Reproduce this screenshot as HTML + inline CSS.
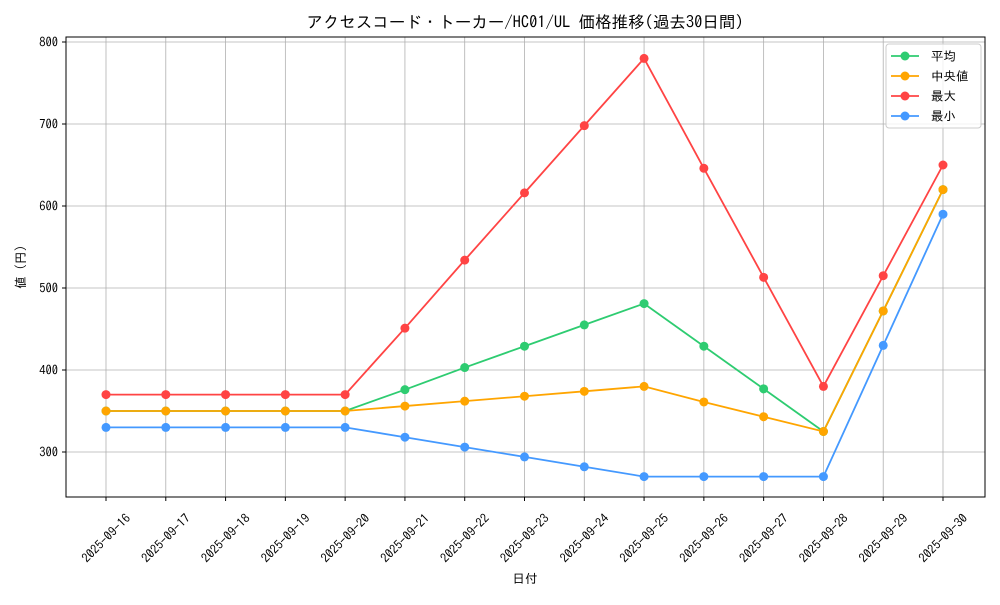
<!DOCTYPE html>
<html><head><meta charset="utf-8"><style>
body{margin:0;background:#fff}
svg text{font-family:"IPAGothic","Noto Sans CJK JP",sans-serif;fill:#000}
</style></head><body>
<svg width="1000" height="600" xmlns="http://www.w3.org/2000/svg">
<rect width="1000" height="600" fill="#fff"/>
<text x="525" y="28" font-size="16.5" text-anchor="middle">アクセスコード・トーカー/HC01/UL 価格推移(過去30日間)</text>
<g id="grid" stroke="#b0b0b0" stroke-width="0.8"></g>
<rect x="66" y="37" width="919" height="460" fill="none" stroke="#000" stroke-width="1"/>
<g id="ticks" font-size="12.5"></g>
<text x="525" y="583" font-size="12.5" text-anchor="middle">日付</text>
<text transform="translate(25,267) rotate(-90)" font-size="12.5" text-anchor="middle">値 (円)</text>
<g id="series"></g>
<g id="legend">
<rect x="886" y="44" width="95" height="84" fill="#fff" fill-opacity="0.8" stroke="#ccc" rx="3"/>
</g>
</svg>
<script>
const ns="http://www.w3.org/2000/svg";
function el(t,a,p){const e=document.createElementNS(ns,t);for(const k in a)e.setAttribute(k,a[k]);document.getElementById(p).appendChild(e);return e;}
const X=i=>106+i*(943-106)/14, Y=v=>452-(v-300)*0.82;
for(let v=300;v<=800;v+=100){el('line',{x1:66,x2:985,y1:Y(v),y2:Y(v)},'grid');
el('line',{x1:62,x2:66,y1:Y(v),y2:Y(v),stroke:'#000'},'ticks');
el('text',{x:58,y:Y(v)+4.5,'text-anchor':'end'},'ticks').textContent=v;}
for(let i=0;i<15;i++){const x=X(i);el('line',{x1:x,x2:x,y1:37,y2:497},'grid');
el('line',{x1:x,x2:x,y1:497,y2:501,stroke:'#000'},'ticks');
const t=el('text',{transform:`translate(${x},${538}) rotate(-45)`,'text-anchor':'middle',dy:'4.5'},'ticks');
t.textContent='2025-09-'+(16+i);}
const S=[
['#2ecc71','平均',[350,350,350,350,350,376,403,429,455,481,429,377,325,472,620]],
['#ffa500','中央値',[350,350,350,350,350,356,362,368,374,380,361,343,325,472,620]],
['#ff4444','最大',[370,370,370,370,370,451,534,616,698,780,646,513,380,515,650]],
['#4499ff','最小',[330,330,330,330,330,318,306,294,282,270,270,270,270,430,590]]];
S.forEach(([c,n,d],k)=>{
el('polyline',{points:d.map((v,i)=>X(i)+','+Y(v)).join(' '),fill:'none',stroke:c,'stroke-width':1.8},'series');
d.forEach((v,i)=>el('circle',{cx:X(i),cy:Y(v),r:4.5,fill:c},'series'));
const y=56+k*20;
el('line',{x1:891,x2:919,y1:y,y2:y,stroke:c,'stroke-width':1.8},'legend');
el('circle',{cx:905,cy:y,r:4.5,fill:c},'legend');
el('text',{x:931,y:y+4.5,'font-size':'12.5'},'legend').textContent=n;
});
</script>
</body></html>
